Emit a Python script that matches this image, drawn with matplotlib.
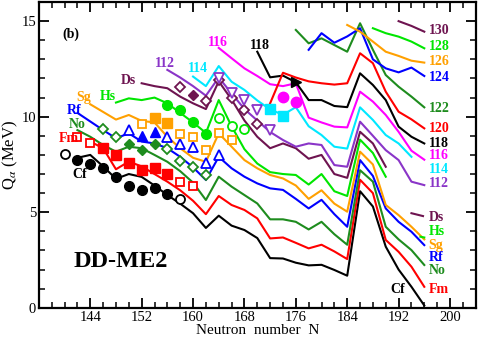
import numpy as np
import matplotlib
matplotlib.use('Agg')
import matplotlib.pyplot as plt
from matplotlib.ticker import MultipleLocator, FixedLocator

plt.rcParams['font.family'] = ['Liberation Serif', 'DejaVu Serif']
plt.rcParams['mathtext.fontset'] = 'stix'

# colours
BLACK = '#000000'
RED = '#ff0000'
DKGREEN = '#1e8c1e'
BLUE = '#0000ff'
ORANGE = '#ffa000'
LTGREEN = '#00e600'
MAROON = '#6e1450'
PURPLE = '#8a35c8'
CYAN = '#00e8ff'
MAGENTA = '#ff00ff'

# ---- calculated Q_alpha chains (DD-ME2) ----
cf_N = list(range(142, 198, 2))
cf_Q = [7.85, 8.0, 7.4, 6.75, 7.0, 6.85, 6.4, 5.9, 5.45, 4.95, 4.18, 4.82, 4.3, 4.07,
        3.65, 2.6, 2.58, 2.36, 2.22, 2.25, 1.98, 1.68, 6.1, 5.3, 3.2, 2.0, 1.1, 0.12]

fm_N = list(range(144, 198, 2))
fm_Q = [8.7, 8.35, 7.25, 7.65, 7.4, 7.0, 6.6, 6.15, 5.6, 4.9, 5.85, 5.38, 5.12, 4.68,
        3.63, 3.68, 3.4, 3.11, 3.3, 2.95, 2.55, 6.7, 6.0, 3.55, 2.93, 2.15, 1.1]

no_N = list(range(142, 198, 2))
no_Q = [9.3, 8.95, 8.52, 8.17, 8.43, 8.35, 8.0, 7.64, 7.15, 6.55, 5.64, 6.86, 6.34, 5.9,
        5.46, 4.63, 4.63, 4.5, 4.1, 4.5, 3.85, 3.3, 7.2, 6.6, 4.24, 3.58, 3.02, 2.24]

rf_N = list(range(142, 198, 2))
rf_Q = [10.2, 9.75, 9.3, 8.87, 9.13, 8.7, 8.6, 8.35, 7.9, 7.35, 6.69, 7.9, 7.3, 6.86,
        6.51, 6.25, 6.17, 5.7, 5.2, 5.65, 4.9, 4.24, 7.73, 6.9, 5.2, 4.5, 3.98, 3.28]

sg_N = list(range(144, 198, 2))
sg_Q = [10.65, 10.25, 9.85, 10.09, 9.78, 9.7, 8.95, 8.35, 7.85, 7.64, 9.13, 8.43, 7.73,
        7.3, 6.95, 6.77, 6.4, 5.7, 6.15, 5.45, 5.03, 8.17, 7.5, 5.38, 4.85, 4.24, 3.58]

hs_N = list(range(148, 192, 2))
hs_Q = [10.74, 10.96, 10.87, 11.0, 10.7, 10.2, 9.7, 9.15, 10.87, 9.5, 8.3, 7.55, 7.1,
        7.0, 6.95, 6.45, 7.0, 6.1, 5.85, 8.8, 8.1, 6.86]

ds_N = list(range(152, 192, 2))
ds_Q = [11.75, 11.6, 11.49, 11.05, 10.7, 10.4, 11.85, 10.9, 9.8, 8.95, 8.35, 8.6, 8.35,
        7.8, 8.0, 7.0, 6.8, 9.21, 8.6, 7.38]

z112_N = list(range(156, 198, 2))
z112_Q = [12.45, 12.05, 11.6, 11.1, 12.05, 11.22, 10.4, 9.8, 9.2, 8.78, 8.43, 8.6, 8.52,
          7.47, 7.38, 9.74, 9.0, 8.25, 7.73, 6.6, 6.42]

z114_N = list(range(160, 196, 2))
z114_Q = [12.1, 11.6, 12.65, 11.83, 11.4, 10.85, 10.38, 10.1, 10.5, 9.5, 9.04, 8.43,
          8.33, 10.49, 9.83, 9.04, 8.6, 7.9]

z116_N = list(range(164, 198, 2))
z116_Q = [13.6, 13.06, 12.53, 12.13, 11.7, 11.6, 11.75, 9.95, 9.7, 9.48, 9.44, 11.31,
          10.79, 10.09, 9.21, 8.22, 7.75]

z118_N = list(range(170, 198, 2))
z118_Q = [13.4, 12.06, 12.15, 11.8, 10.87, 10.87, 10.56, 10.5, 12.27, 11.66, 10.87,
          9.48, 8.95, 8.6]

z120_N = list(range(172, 198, 2))
z120_Q = [10.7, 12.3, 12.05, 11.85, 11.75, 11.68, 11.75, 13.32, 12.8, 11.31, 10.26,
          9.86, 9.39]

z122_N = list(range(176, 198, 2))
z122_Q = [14.54, 13.84, 14.1, 13.75, 13.4, 14.89, 13.5, 12.18, 11.57, 11.05, 10.49]

z124_N = list(range(178, 198, 2))
z124_Q = [13.5, 14.37, 13.87, 14.2, 14.63, 13.0, 12.53, 12.32, 12.57, 12.13]

z126_N = list(range(184, 198, 2))
z126_Q = [14.8, 14.45, 13.93, 13.4, 13.18, 12.93, 12.83]

z128_N = list(range(188, 198, 2))
z128_Q = [14.63, 14.37, 14.19, 13.93, 13.58]

z130_N = [192, 194, 196]
z130_Q = [15.0, 14.75, 14.45]

# short legend stubs next to right-hand labels
ds_stub_N = [194, 195.8]
ds_stub_Q = [4.95, 4.8]
hs_stub_N = [195.4, 196]
hs_stub_Q = [3.72, 3.68]

# ---- experimental values (markers) ----
cf_fill_N = [142, 144, 146, 148, 150, 152, 154, 156]
cf_fill_Q = [7.72, 7.54, 7.33, 6.86, 6.36, 6.17, 6.25, 5.98]
cf_open_N = [140, 158]
cf_open_Q = [8.04, 5.68]

fm_fill_N = [146, 148, 150, 152, 154, 156]
fm_fill_Q = [8.35, 8.0, 7.6, 7.2, 7.3, 6.98]
fm_open_N = [142, 144, 158, 160]
fm_open_Q = [8.95, 8.6, 6.58, 6.4]

no_fill_N = [150, 152, 154]
no_fill_Q = [8.58, 8.26, 8.58]
no_open_N = [146, 148, 156, 158, 160, 162]
no_open_Q = [9.36, 8.92, 8.3, 7.7, 7.35, 6.95]

rf_fill_N = [152, 154]
rf_fill_Q = [8.98, 9.2]
rf_open_N = [150, 156, 158, 160, 162, 164]
rf_open_Q = [9.3, 8.95, 8.55, 8.4, 7.58, 8.0]

sg_fill_N = [154, 156]
sg_fill_Q = [9.91, 9.65]
sg_open_N = [152, 158, 160, 162, 164, 166]
sg_open_Q = [9.63, 9.08, 8.95, 8.26, 9.17, 8.78]

hs_fill_N = [156, 158, 160, 162]
hs_fill_Q = [10.61, 10.35, 9.7, 9.07]
hs_open_N = [164, 166, 168]
hs_open_Q = [9.93, 9.5, 9.35]

ds_fill_N = [160]
ds_fill_Q = [11.14]
ds_open_N = [158, 162, 164, 166, 168, 170]
ds_open_Q = [11.55, 10.82, 11.9, 11.0, 10.35, 9.6]

z112_open_N = [164, 166, 168, 170, 172]
z112_open_Q = [12.0, 11.22, 10.87, 10.35, 9.3]

z114_fill_N = [172, 174]
z114_fill_Q = [10.4, 10.06]

z116_fill_N = [174, 176]
z116_fill_Q = [11.02, 10.79]

z118_fill_N = [176]
z118_fill_Q = [11.83]

fig = plt.figure(figsize=(4.8, 3.39), dpi=100)
ax = fig.add_axes([0.081, 0.092, 0.910, 0.902])

lw = 1.5
chains = [
    (cf_N, cf_Q, BLACK), (fm_N, fm_Q, RED), (no_N, no_Q, DKGREEN),
    (rf_N, rf_Q, BLUE), (sg_N, sg_Q, ORANGE), (hs_N, hs_Q, LTGREEN),
    (ds_N, ds_Q, MAROON), (z112_N, z112_Q, PURPLE), (z114_N, z114_Q, CYAN),
    (z116_N, z116_Q, MAGENTA), (z118_N, z118_Q, BLACK), (z120_N, z120_Q, RED),
    (z122_N, z122_Q, DKGREEN), (z124_N, z124_Q, BLUE), (z126_N, z126_Q, ORANGE),
    (z128_N, z128_Q, LTGREEN), (z130_N, z130_Q, MAROON),
    (ds_stub_N, ds_stub_Q, MAROON), (hs_stub_N, hs_stub_Q, LTGREEN),
]
for n, q, c in chains:
    ax.plot(n, q, color=c, lw=lw, zorder=2)

ms = 6.5
mew = 1.3


def filled(n, q, m, c, s=ms):
    ax.plot(n, q, ls='none', marker=m, ms=s, color=c, mec=c, zorder=3)


def hollow(n, q, m, c, s=ms):
    ax.plot(n, q, ls='none', marker=m, ms=s, mfc='white', mec=c, mew=mew, zorder=3)


filled(cf_fill_N, cf_fill_Q, 'o', BLACK, 7)
hollow(cf_open_N, cf_open_Q, 'o', BLACK)
filled(fm_fill_N, fm_fill_Q, 's', RED)
hollow(fm_open_N, fm_open_Q, 's', RED, 5.5)
filled(no_fill_N, no_fill_Q, 'D', DKGREEN, 5.5)
hollow(no_open_N, no_open_Q, 'D', DKGREEN, 5)
filled(rf_fill_N, rf_fill_Q, '^', BLUE, 7)
hollow(rf_open_N, rf_open_Q, '^', BLUE, 6.5)
filled(sg_fill_N, sg_fill_Q, 's', ORANGE)
hollow(sg_open_N, sg_open_Q, 's', ORANGE, 5.5)
filled(hs_fill_N, hs_fill_Q, 'o', LTGREEN, 7)
hollow(hs_open_N, hs_open_Q, 'o', LTGREEN)
filled(ds_fill_N, ds_fill_Q, 'D', MAROON, 5.5)
hollow(ds_open_N, ds_open_Q, 'D', MAROON, 5)
hollow(z112_open_N, z112_open_Q, 'v', PURPLE, 6.5)
filled(z114_fill_N, z114_fill_Q, 's', CYAN)
filled(z116_fill_N, z116_fill_Q, 'o', MAGENTA, 7.5)
filled(z118_fill_N, z118_fill_Q, '>', BLACK, 7)

# chain labels
lab = dict(fontsize=10, fontweight='bold', va='center', zorder=4)
left_labels = [
    ('Cf', 142.3, 7.0, BLACK), ('Fm', 140.6, 8.85, RED), ('No', 141.9, 9.6, DKGREEN),
    ('Rf', 141.5, 10.3, BLUE), ('Sg', 143.0, 11.0, ORANGE), ('Hs', 146.7, 11.07, LTGREEN),
    ('Ds', 149.9, 11.9, MAROON), ('112', 155.6, 12.8, PURPLE), ('114', 160.8, 12.5, CYAN),
    ('116', 163.8, 13.9, MAGENTA), ('118', 170.4, 13.75, BLACK), ('Cf', 191.8, 0.96, BLACK),
]
for t, x, y, c in left_labels:
    ax.text(x, y, t, color=c, ha='center', **lab)

right_labels = [
    ('130', 14.5, MAROON), ('128', 13.67, LTGREEN), ('126', 12.88, ORANGE),
    ('124', 12.06, BLUE), ('122', 10.44, DKGREEN), ('120', 9.39, RED),
    ('118', 8.62, BLACK), ('116', 7.95, MAGENTA), ('114', 7.22, CYAN),
    ('112', 6.48, PURPLE), ('Ds', 4.7, MAROON), ('Hs', 3.98, LTGREEN),
    ('Sg', 3.28, ORANGE), ('Rf', 2.64, BLUE), ('No', 1.97, DKGREEN), ('Fm', 0.96, RED),
]
for t, y, c in right_labels:
    ax.text(196.7, y, t, color=c, ha='left', **lab)

ax.text(141.0, 14.3, '(b)', fontsize=10, fontweight='bold', ha='center', va='center')
ax.text(148.8, 2.4, 'DD-ME2', fontsize=17.5, fontweight='bold', ha='center', va='center')

ax.set_xlim(136, 204)
ax.set_ylim(0, 16)
ax.xaxis.set_major_locator(FixedLocator([144, 152, 160, 168, 176, 184, 192, 200]))
ax.xaxis.set_minor_locator(MultipleLocator(2))
ax.yaxis.set_major_locator(FixedLocator([0, 5, 10, 15]))
ax.yaxis.set_minor_locator(MultipleLocator(1))
ax.tick_params(which='both', direction='in', top=True, right=True, labelsize=10.5)
ax.tick_params(which='major', length=7, width=1.3, pad=2)
ax.tick_params(which='minor', length=4, width=1.1)
for s in ax.spines.values():
    s.set_linewidth(1.6)

ax.set_xlabel('Neutron  number  N', fontsize=11, labelpad=0)
ax.set_ylabel(r'Q$_{\alpha}$ (MeV)', fontsize=12, labelpad=1)

fig.savefig('out.png', dpi=100)
